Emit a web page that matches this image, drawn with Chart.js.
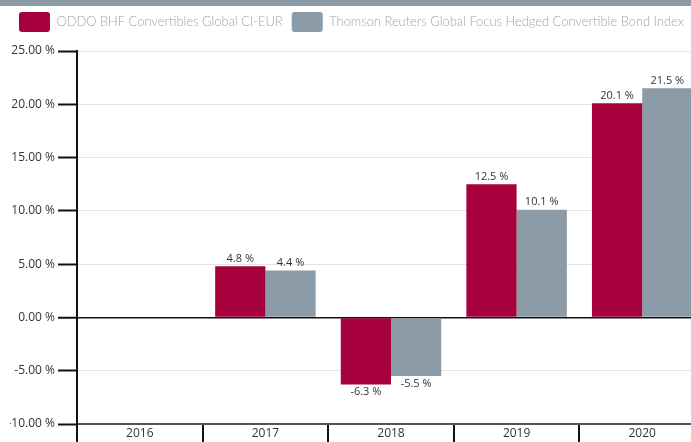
<!DOCTYPE html>
<html>
<head>
<meta charset="utf-8">
<script src="https://cdn.jsdelivr.net/npm/chart.js@4"></script>
<style>
  html, body { margin: 0; padding: 0; overflow: hidden; background: #fff; }
  #wrap { position: relative; width: 691px; height: 442px; overflow: hidden; }
  #band { position: absolute; left: 0; top: 0; width: 691px; height: 6px; background: #8a9aa7; z-index: 2; }
  #chart { position: absolute; left: 0; top: 0; }
</style>
</head>
<body>
<div id="wrap">
  <div id="band"></div>
  <canvas id="chart" width="705" height="460"></canvas>
</div>
<script>
const years = ["2016", "2017", "2018", "2019", "2020"];
const fundValues = [null, 4.8, -6.3, 12.5, 20.1];
const indexValues = [null, 4.4, -5.5, 10.1, 21.5];
const fundLabel = "ODDO BHF Convertibles Global CI-EUR";
const indexLabel = "Thomson Reuters Global Focus Hedged Convertible Bond Index";

// value labels above / below each bar
const barLabels = {
  id: "barLabels",
  afterDatasetsDraw(chart) {
    const ctx = chart.ctx;
    ctx.save();
    ctx.font = "11px 'Open Sans'";
    ctx.fillStyle = "#333";
    ctx.textAlign = "center";
    chart.data.datasets.forEach((ds, i) => {
      chart.getDatasetMeta(i).data.forEach((bar, j) => {
        const v = ds.data[j];
        if (v === null) return;
        const txt = v.toFixed(1) + " %";
        if (v >= 0) {
          ctx.textBaseline = "bottom";
          ctx.fillText(txt, bar.x, bar.y - 2);
        } else {
          ctx.textBaseline = "top";
          ctx.fillText(txt, bar.x, bar.y + 2);
        }
      });
    });
    ctx.restore();
  }
};

// push chart area down below the legend
const legendGap = {
  id: "legendGap",
  beforeInit(chart) {
    const fit = chart.legend.fit;
    chart.legend.fit = function () {
      fit.bind(chart.legend)();
      this.height = 48;
    };
  }
};

const chart = new Chart(document.getElementById("chart"), {
  type: "bar",
  data: {
    labels: years,
    datasets: [
      {
        label: fundLabel,
        data: fundValues,
        backgroundColor: "#a6003d",
        categoryPercentage: 0.8,
        barPercentage: 1.0,
      },
      {
        label: indexLabel,
        data: indexValues,
        backgroundColor: "#8b9ba7",
        categoryPercentage: 0.8,
        barPercentage: 1.0,
      },
    ],
  },
  options: {
    responsive: false,
    animation: false,
    layout: { padding: { left: 10, top: 3, right: 0, bottom: 0 } },
    plugins: {
      legend: {
        display: true,
        position: "top",
        align: "start",
        labels: {
          boxWidth: 31,
          boxHeight: 20,
          useBorderRadius: true,
          borderRadius: 3,
          padding: 9,
          color: "#9aa6b0",
          font: { family: "Lato", size: 12.9, weight: "300" },
        },
      },
      tooltip: { enabled: false },
    },
    scales: {
      x: {
        offset: true,
        grid: {
          offset: true,
          drawOnChartArea: false,
          tickLength: 30,
          color: "#111",
          lineWidth: 2,
        },
        border: { color: "#555", width: 2 },
        ticks: { padding: -28, color: "#333", font: { family: "Open Sans", size: 12 } },
        afterFit(scale) { scale.height = 36; },
      },
      y: {
        min: -10,
        max: 25,
        ticks: {
          stepSize: 5,
          padding: 3,
          color: "#333",
          font: { family: "Open Sans", size: 12 },
          callback: (v) => v.toFixed(2) + " %",
        },
        grid: {
          color: (c) => (c.tick.value === 0 ? "#111" : c.tick.value === -10 ? "#555" : "#e3e3e3"),
          lineWidth: (c) => (c.tick.value === 0 ? 1.5 : 1),
          tickColor: "#111",
          tickWidth: 2,
          tickLength: 19,
        },
        border: { color: "#111", width: 2 },
        afterFit(scale) { scale.width = 67; },
      },
    },
  },
  plugins: [barLabels, legendGap],
});
</script>
</body>
</html>
